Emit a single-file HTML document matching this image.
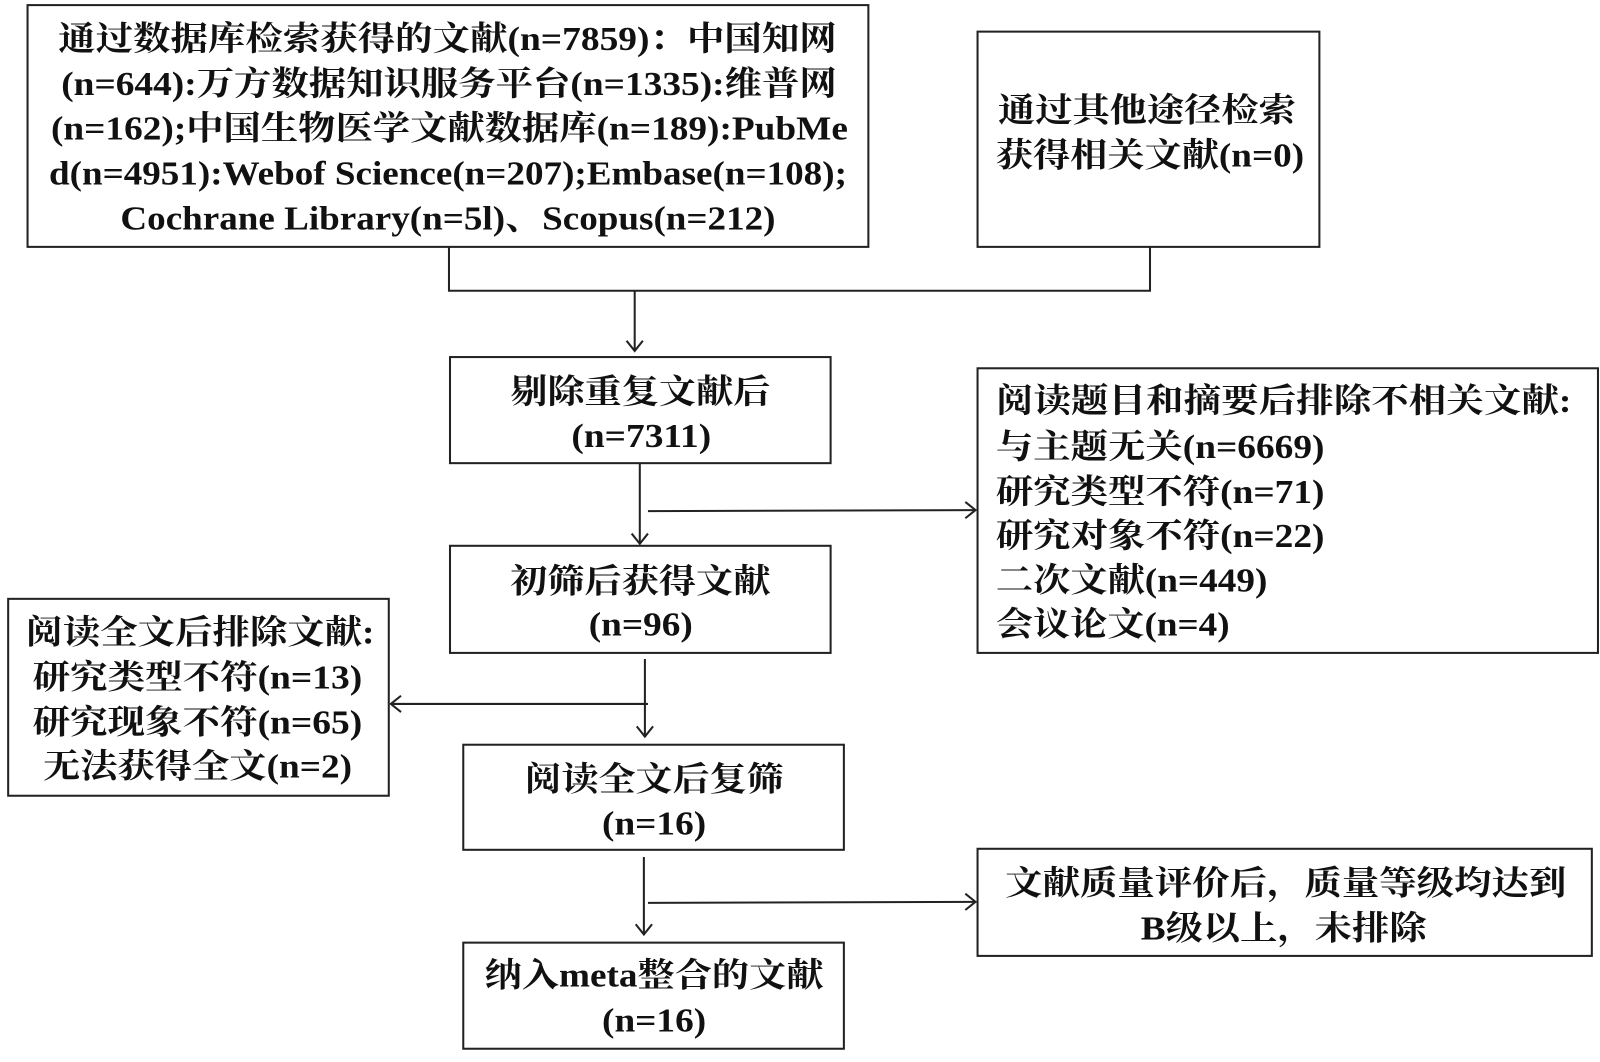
<!DOCTYPE html>
<html><head><meta charset="utf-8"><style>html,body{margin:0;padding:0;background:#fff}svg{display:block}</style></head>
<body>
<svg width="1600" height="1062" viewBox="0 0 1568 1041" preserveAspectRatio="none" xmlns="http://www.w3.org/2000/svg">
<g fill="none" stroke="#222" stroke-width="2">
<rect x="27" y="5" width="824" height="237"/>
<rect x="958" y="31" width="335" height="211"/>
<rect x="441" y="350" width="373" height="104"/>
<rect x="958" y="361" width="608" height="279"/>
<rect x="441" y="535" width="373" height="105"/>
<rect x="8" y="587" width="373" height="193"/>
<rect x="454" y="730" width="373" height="103"/>
<rect x="958" y="832" width="602" height="105"/>
<rect x="454" y="924" width="373" height="104"/>
<polyline points="440,242 440,285 1127,285 1127,242"/>
<line x1="622" y1="285" x2="622" y2="344"/>
<polyline points="614,334 622,344 630,334"/>
<line x1="627" y1="454" x2="627" y2="533"/>
<polyline points="619,523 627,533 635,523"/>
<line x1="635" y1="501" x2="956" y2="500"/>
<polyline points="946,492 956,500 946,508"/>
<line x1="632" y1="646" x2="632" y2="722"/>
<polyline points="624,712 632,722 640,712"/>
<line x1="635" y1="690" x2="383" y2="690"/>
<polyline points="393,682 383,690 393,698"/>
<line x1="631" y1="840" x2="631" y2="916"/>
<polyline points="623,906 631,916 639,906"/>
<line x1="635" y1="885" x2="956" y2="884"/>
<polyline points="946,876 956,884 946,892"/>
</g>
<g fill="#111" font-family="'Liberation Serif','Noto Serif CJK SC',serif" font-weight="bold" font-size="33" lengthAdjust="spacingAndGlyphs">
<text x="57" y="49" textLength="763" lengthAdjust="spacingAndGlyphs">通过数据库检索获得的文献(n=7859)：中国知网</text>
<text x="60" y="93" textLength="760" lengthAdjust="spacingAndGlyphs">(n=644):万方数据知识服务平台(n=1335):维普网</text>
<text x="50" y="137" textLength="781" lengthAdjust="spacingAndGlyphs">(n=162);中国生物医学文献数据库(n=189):PubMe</text>
<text x="48" y="181" textLength="782" lengthAdjust="spacingAndGlyphs">d(n=4951):Webof Science(n=207);Embase(n=108);</text>
<text x="118" y="225" textLength="642" lengthAdjust="spacingAndGlyphs">Cochrane Library(n=5l)、Scopus(n=212)</text>
<text x="978" y="119" textLength="292" lengthAdjust="spacingAndGlyphs">通过其他途径检索</text>
<text x="976" y="163" textLength="302" lengthAdjust="spacingAndGlyphs">获得相关文献(n=0)</text>
<text x="500" y="395" textLength="255" lengthAdjust="spacingAndGlyphs">剔除重复文献后</text>
<text x="560" y="438" textLength="137" lengthAdjust="spacingAndGlyphs">(n=7311)</text>
<text x="976" y="404" textLength="564" lengthAdjust="spacingAndGlyphs">阅读题目和摘要后排除不相关文献:</text>
<text x="976" y="449" textLength="322" lengthAdjust="spacingAndGlyphs">与主题无关(n=6669)</text>
<text x="976" y="493" textLength="322" lengthAdjust="spacingAndGlyphs">研究类型不符(n=71)</text>
<text x="976" y="536" textLength="322" lengthAdjust="spacingAndGlyphs">研究对象不符(n=22)</text>
<text x="976" y="580" textLength="266" lengthAdjust="spacingAndGlyphs">二次文献(n=449)</text>
<text x="976" y="623" textLength="229" lengthAdjust="spacingAndGlyphs">会议论文(n=4)</text>
<text x="500" y="581" textLength="255" lengthAdjust="spacingAndGlyphs">初筛后获得文献</text>
<text x="577" y="623" textLength="102" lengthAdjust="spacingAndGlyphs">(n=96)</text>
<text x="25" y="631" textLength="342" lengthAdjust="spacingAndGlyphs">阅读全文后排除文献:</text>
<text x="32" y="675" textLength="323" lengthAdjust="spacingAndGlyphs">研究类型不符(n=13)</text>
<text x="32" y="719" textLength="323" lengthAdjust="spacingAndGlyphs">研究现象不符(n=65)</text>
<text x="42" y="762" textLength="303" lengthAdjust="spacingAndGlyphs">无法获得全文(n=2)</text>
<text x="514" y="775" textLength="254" lengthAdjust="spacingAndGlyphs">阅读全文后复筛</text>
<text x="590" y="818" textLength="102" lengthAdjust="spacingAndGlyphs">(n=16)</text>
<text x="985" y="877" textLength="550" lengthAdjust="spacingAndGlyphs">文献质量评价后，质量等级均达到</text>
<text x="1118" y="921" textLength="280" lengthAdjust="spacingAndGlyphs">B级以上，未排除</text>
<text x="475" y="967" textLength="332" lengthAdjust="spacingAndGlyphs">纳入meta整合的文献</text>
<text x="590" y="1011" textLength="102" lengthAdjust="spacingAndGlyphs">(n=16)</text>
</g>
</svg>
</body></html>
